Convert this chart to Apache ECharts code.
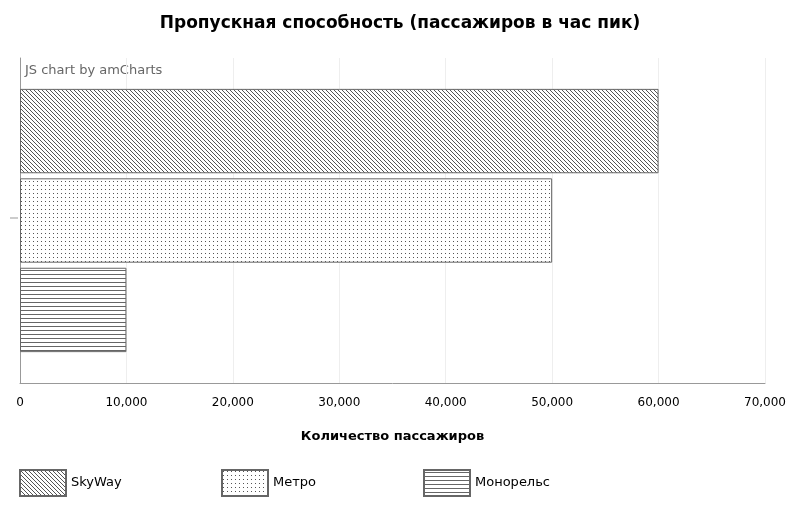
<!DOCTYPE html>
<html>
<head>
<meta charset="utf-8">
<script src="https://cdn.jsdelivr.net/npm/echarts@6/dist/echarts.min.js"></script>
<style>html,body{margin:0;padding:0;background:#fff}#chart{width:800px;height:510px}</style>
</head>
<body>
<div id="chart"></div>
<script>
var categories = ['Пропускная способность'];
var seriesNames = ['SkyWay', 'Метро', 'Монорельс'];
var seriesValues = [[60000], [50000], [10000]];
var xTicks = [0, 70000, 10000];

function pattern(kind){
	var c = document.createElement('canvas');
	var g;
	if (kind == 0) {
		c.width = 4; c.height = 4;
		g = c.getContext('2d');
		g.fillStyle = '#fff'; g.fillRect(0, 0, 4, 4);
		g.fillStyle = '#555';
		for (var k = 0; k < 4; k++) g.fillRect(k, k, 1, 1);
	} else if (kind == 1) {
		c.width = 4; c.height = 4;
		g = c.getContext('2d');
		g.fillStyle = '#fff'; g.fillRect(0, 0, 4, 4);
		g.fillStyle = '#555'; g.fillRect(1, 1, 1, 1);
	} else {
		c.width = 4; c.height = 4;
		g = c.getContext('2d');
		g.fillStyle = '#fff'; g.fillRect(0, 0, 4, 4);
		g.fillStyle = '#666'; g.fillRect(0, 2, 4, 1);
	}
	return {image: c, repeat: 'repeat'};
}

var series = [];
var legends = [];
for (var i = 0; i < seriesNames.length; i++) {
	series.push({
		name: seriesNames[i],
		type: 'bar',
		data: seriesValues[i],
		barGap: '6%',
		barCategoryGap: '19%',
		itemStyle: {color: pattern(i), borderColor: '#666', borderWidth: 1}
	});
	legends.push({
		data: [seriesNames[i]],
		left: 14 + i * 202,
		top: 464,
		itemWidth: 46,
		itemHeight: 26,
		icon: 'rect',
		textStyle: {fontFamily: 'Verdana, DejaVu Sans', fontSize: 13, color: '#000'}
	});
}

var option = {
	animation: false,
	title: {
		text: 'Пропускная способность (пассажиров в час пик)',
		left: 'center', top: 10,
		textStyle: {fontFamily: 'Verdana, DejaVu Sans', fontSize: 17, fontWeight: 'bold', color: '#000'}
	},
	legend: legends,
	graphic: [{
		type: 'text', left: 25, top: 64,
		style: {text: 'JS chart by amCharts', fill: '#666', font: '13px Verdana, DejaVu Sans'}
	}, {
		type: 'line', shape: {x1: 10, y1: 218, x2: 18, y2: 218},
		style: {stroke: '#999', lineWidth: 1}
	}],
	grid: {left: 20, right: 35, top: 58, bottom: 127, containLabel: false},
	xAxis: {
		type: 'value',
		min: xTicks[0], max: xTicks[1], interval: xTicks[2],
		name: 'Количество пассажиров',
		nameLocation: 'middle', nameGap: 47,
		nameTextStyle: {fontFamily: 'Verdana, DejaVu Sans', fontSize: 13, fontWeight: 'bold', color: '#000'},
		axisLine: {show: true, lineStyle: {color: '#999'}},
		axisTick: {show: false},
		axisLabel: {fontFamily: 'Verdana, DejaVu Sans', fontSize: 12, color: '#000', margin: 14,
			formatter: function(v){ return v.toLocaleString('en-US'); }},
		splitLine: {lineStyle: {color: '#eee'}}
	},
	yAxis: {
		type: 'category',
		data: categories,
		inverse: true,
		axisLine: {lineStyle: {color: '#999'}},
		axisTick: {show: false},
		axisLabel: {show: false}
	},
	series: series
};
var mychart = echarts.init(document.getElementById('chart'));
mychart.setOption(option);
</script>
</body>
</html>
